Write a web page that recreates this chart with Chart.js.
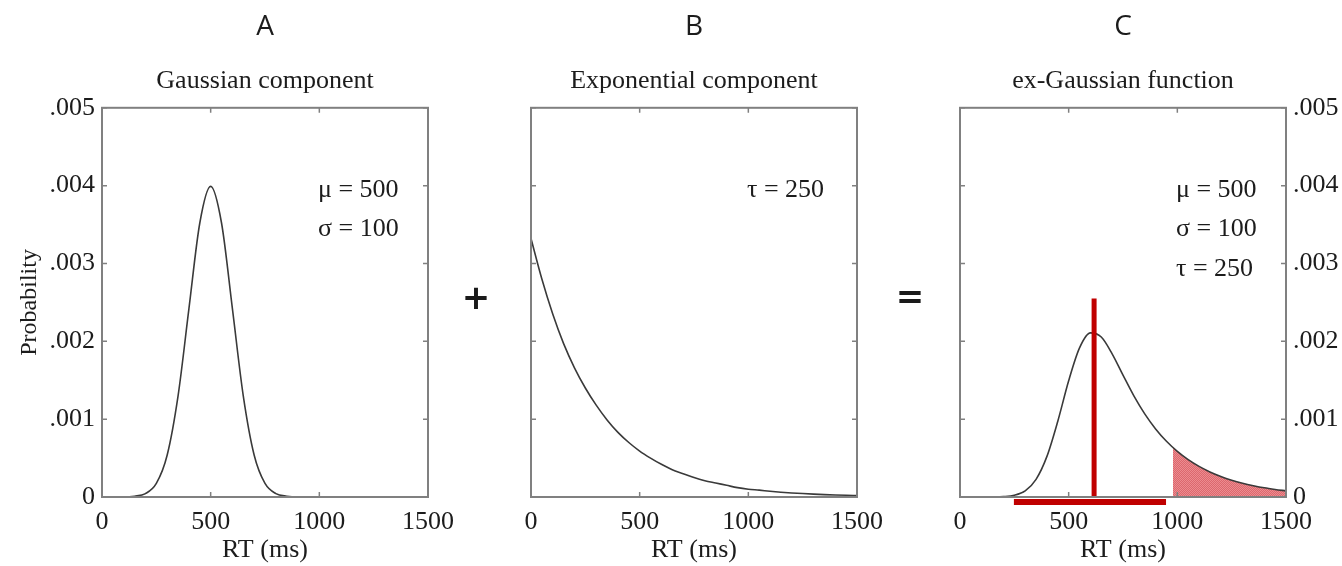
<!DOCTYPE html>
<html>
<head>
<meta charset="utf-8">
<title>ex-Gaussian components</title>
<script src="https://cdn.jsdelivr.net/npm/chart.js@4.4.1/dist/chart.umd.min.js"></script>
<style>
  html, body { margin: 0; padding: 0; background: #fff; }
  body { width: 1342px; height: 566px; position: relative; overflow: hidden; }
  .panel { position: absolute; top: 0; height: 566px; }
  .op { position: absolute; font: bold 34px 'DejaVu Sans', sans-serif; color: #1a1a1a; transform: translate(-50%, -50%); line-height: 1; }
</style>
</head>
<body>
<div class="panel" style="left:0;width:468px"><canvas id="chartA"></canvas></div>
<div class="panel" style="left:460px;width:437px"><canvas id="chartB"></canvas></div>
<div class="panel" style="left:889px;width:453px"><canvas id="chartC"></canvas></div>
<div class="op" style="left:476px;top:297px">+</div>
<div class="op" style="left:910px;top:296px">=</div>

<script>
// Axis ticks
const rtTicks = [0, 500, 1000, 1500];
const probTicks = [0, 0.001, 0.002, 0.003, 0.004, 0.005];

// RT samples (ms) used by all three curves
const rtSamples = [0, 50, 100, 150, 200, 250, 300, 350, 400, 450,
  500, 550, 600, 650, 700, 750, 800, 850, 900, 950,
  1000, 1050, 1100, 1150, 1200, 1250, 1300, 1350, 1400, 1450, 1500];

// A - Gaussian component
const gaussValues = [0, 0, 0, 0.00001, 0.000044, 0.000175, 0.00054, 0.0013, 0.00242, 0.00352,
  0.00399, 0.00352, 0.00242, 0.0013, 0.00054, 0.000175, 0.000044, 0.00001, 0, 0,
  0, 0, 0, 0, 0, 0, 0, 0, 0, 0, 0];

// B - Exponential component
const expValues = [0.00332, 0.0028, 0.00235, 0.00197, 0.00166, 0.0014, 0.00118, 0.00099, 0.00083, 0.0007,
  0.00059, 0.0005, 0.00042, 0.00035, 0.0003, 0.00025, 0.00021, 0.00018, 0.00015, 0.00012,
  0.0001, 0.000088, 0.000074, 0.000062, 0.000052, 0.000044, 0.000037, 0.000031, 0.000026, 0.000022, 0.000019];

// C - ex-Gaussian function
const exGaussValues = [0, 0, 0, 0.000001, 0.000005, 0.000022, 0.000079, 0.000227, 0.000522, 0.000974,
  0.001493, 0.001915, 0.002108, 0.002055, 0.00184, 0.001566, 0.001299, 0.001068, 0.000875, 0.000716,
  0.000586, 0.00048, 0.000393, 0.000322, 0.000264, 0.000216, 0.000177, 0.000145, 0.000118, 0.000097, 0.000079];

// shaded tail in C
const tailRT = [980, 1000, 1050, 1100, 1150, 1200, 1250, 1300, 1350, 1400, 1450, 1500];
const tailValues = [0.000635, 0.000586, 0.00048, 0.000393, 0.000322, 0.000264, 0.000216, 0.000177, 0.000145, 0.000118, 0.000097, 0.000079];

// red marker lines in C
const modeLineRT = [617, 617];
const modeLineProb = [0, 0.00255];
const spreadLineRT = [248, 948];
const spreadLineProb = [-0.000064, -0.000064];

const textColor = '#1c1c1c';
const curveColor = '#3a3a3a';
const frameColor = '#808080';
const markRed = '#c00000';
const serif = { family: "'Liberation Serif', 'Times New Roman', serif", size: 26 };

const toPoints = (xs, ys) => xs.map((x, i) => ({ x: x, y: ys[i] }));

// hatched red fill like the original
function hatchPattern() {
  const c = document.createElement('canvas');
  c.width = 2; c.height = 2;
  const g = c.getContext('2d');
  g.fillStyle = 'rgb(236, 140, 144)';
  g.fillRect(0, 0, 2, 2);
  g.fillStyle = 'rgb(220, 104, 110)';
  g.fillRect(0, 0, 1, 1);
  g.fillRect(1, 1, 1, 1);
  return g.createPattern(c, 'repeat');
}

// box + inward tick marks + parameter notes
const framePlugin = {
  id: 'frame',
  afterDatasetsDraw(chart, args, opts) {
    const { ctx, chartArea: a, scales } = chart;
    ctx.save();
    ctx.strokeStyle = frameColor;
    ctx.lineWidth = 2;
    ctx.strokeRect(a.left, a.top, a.right - a.left, a.bottom - a.top);
    ctx.lineWidth = 1.5;
    ctx.beginPath();
    rtTicks.forEach(v => {
      const px = scales.x.getPixelForValue(v);
      ctx.moveTo(px, a.bottom); ctx.lineTo(px, a.bottom - 5);
      ctx.moveTo(px, a.top); ctx.lineTo(px, a.top + 5);
    });
    probTicks.forEach(v => {
      const py = scales.y.getPixelForValue(v);
      ctx.moveTo(a.left, py); ctx.lineTo(a.left + 5, py);
      ctx.moveTo(a.right, py); ctx.lineTo(a.right - 5, py);
    });
    ctx.stroke();

    ctx.fillStyle = textColor;
    ctx.font = "26px 'Liberation Serif', serif";
    ctx.textAlign = 'left';
    ctx.textBaseline = 'alphabetic';
    (opts.notes || []).forEach((t, i) => {
      ctx.fillText(t, a.left + 216, a.top + 89 + i * 39.5);
    });
    ctx.restore();
  }
};

function xScale() {
  return {
    type: 'linear',
    min: 0,
    max: 1500,
    afterBuildTicks: s => { s.ticks = rtTicks.map(v => ({ value: v })); },
    ticks: {
      autoSkip: false, maxRotation: 0, padding: 10, color: textColor, font: serif,
      callback: v => String(v)
    },
    grid: { display: false, drawTicks: false },
    border: { display: false },
    title: { display: true, text: 'RT (ms)', color: textColor, font: serif, padding: 0 },
    afterFit: s => { s.height = 69; }
  };
}

function yScale(position, showLabels, width) {
  return {
    type: 'linear',
    position: position,
    min: 0,
    max: 0.005,
    display: showLabels,
    afterBuildTicks: s => { s.ticks = probTicks.map(v => ({ value: v })); },
    ticks: {
      padding: 7,
      color: textColor,
      font: serif,
      callback: v => v === 0 ? '0' : v.toFixed(3).replace(/^0/, '')
    },
    grid: { display: false, drawTicks: false },
    border: { display: false },
    afterFit: s => { s.width = width; }
  };
}

function titles(letter, name) {
  return {
    legend: { display: false },
    tooltip: { enabled: false },
    title: {
      display: true, text: letter, color: textColor, fullSize: false,
      font: { family: "'Open Sans', sans-serif", size: 28, weight: 'normal' },
      padding: { top: 10, bottom: 0 }
    },
    subtitle: {
      display: true, text: name, color: textColor, fullSize: false,
      font: serif,
      padding: { top: 22, bottom: 11 }
    }
  };
}

function curve(points) {
  return {
    data: points,
    borderColor: curveColor,
    borderWidth: 1.6,
    pointRadius: 0,
    cubicInterpolationMode: 'monotone',
    fill: false
  };
}

Chart.defaults.font.family = serif.family;
Chart.defaults.animation = false;

// A. Gaussian component
const yA = yScale('left', true, 102);
yA.title = { display: true, text: 'Probability', color: textColor, font: { family: serif.family, size: 24 }, padding: { top: 15, bottom: 0 } };
new Chart(document.getElementById('chartA'), {
  type: 'line',
  data: { datasets: [curve(toPoints(rtSamples, gaussValues))] },
  options: {
    responsive: true,
    maintainAspectRatio: false,
    layout: { padding: { left: 0, right: 40, top: 0, bottom: 0 } },
    plugins: Object.assign(titles('A', 'Gaussian component'), { frame: { notes: ['μ = 500', 'σ = 100'] } }),
    scales: { x: xScale(), y: yA }
  },
  plugins: [framePlugin]
});

// B. Exponential component
new Chart(document.getElementById('chartB'), {
  type: 'line',
  data: { datasets: [curve(toPoints(rtSamples, expValues))] },
  options: {
    responsive: true,
    maintainAspectRatio: false,
    layout: { padding: { left: 71, right: 40, top: 0, bottom: 0 } },
    plugins: Object.assign(titles('B', 'Exponential component'), { frame: { notes: ['τ = 250'] } }),
    scales: { x: xScale(), y: yScale('left', false, 0) }
  },
  plugins: [framePlugin]
});

// C. ex-Gaussian function
new Chart(document.getElementById('chartC'), {
  type: 'line',
  data: {
    datasets: [
      {
        data: toPoints(modeLineRT, modeLineProb),
        borderColor: markRed, borderWidth: 5, borderCapStyle: 'butt',
        pointRadius: 0, fill: false, clip: false, order: 0
      },
      {
        data: toPoints(spreadLineRT, spreadLineProb),
        borderColor: markRed, borderWidth: 6, borderCapStyle: 'butt',
        pointRadius: 0, fill: false, clip: false, order: 0
      },
      Object.assign(curve(toPoints(rtSamples, exGaussValues)), { order: 1 }),
      {
        data: toPoints(tailRT, tailValues),
        borderWidth: 0,
        borderColor: 'rgba(0,0,0,0)',
        backgroundColor: hatchPattern(),
        pointRadius: 0,
        cubicInterpolationMode: 'monotone',
        fill: 'origin',
        order: 2
      }
    ]
  },
  options: {
    responsive: true,
    maintainAspectRatio: false,
    layout: { padding: { left: 71, right: 0, top: 0, bottom: 0 } },
    plugins: Object.assign(titles('C', 'ex-Gaussian function'), { frame: { notes: ['μ = 500', 'σ = 100', 'τ = 250'] } }),
    scales: { x: xScale(), y: yScale('right', true, 56) }
  },
  plugins: [framePlugin]
});
</script>
</body>
</html>
